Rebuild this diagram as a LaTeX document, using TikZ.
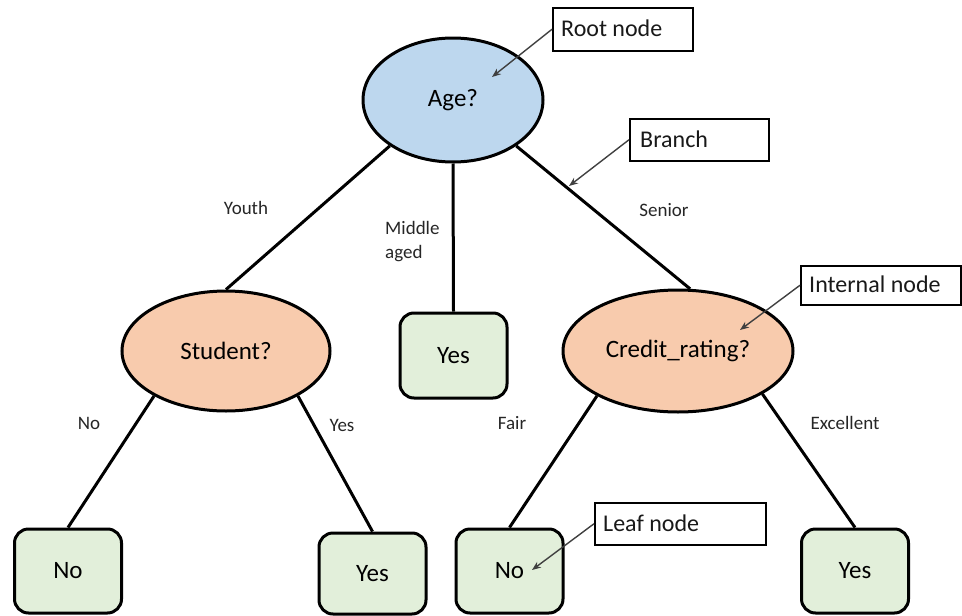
\documentclass[tikz,border=0pt]{standalone}
\usepackage{fontspec}
\setmainfont{Carlito}
\usetikzlibrary{shapes.geometric,arrows.meta}
\definecolor{rootblue}{HTML}{BDD7EE}
\definecolor{innerorange}{HTML}{F8CBAD}
\definecolor{leafgreen}{HTML}{E2EFDA}
\definecolor{calloutgray}{HTML}{404040}
\tikzset{
  decision/.style={ellipse, draw=black, line width=3pt, inner sep=0pt, font=\fontsize{25}{28}\selectfont},
  leafbox/.style={rectangle, rounded corners=14pt, draw=black, line width=3pt, fill=leafgreen,
                  minimum width=107pt, minimum height=84pt, inner sep=0pt, font=\fontsize{25}{28}\selectfont},
  edge/.style={line width=3pt, black},
  edgelabel/.style={font=\fontsize{19}{24}\selectfont, text=black!85, align=left, inner sep=0pt},
  callout/.style={rectangle, draw=black, line width=1.5pt, fill=white, anchor=north west,
                  inner sep=0pt, font=\fontsize{24}{28}\selectfont, text=black!90},
  callouttext/.style={anchor=west, font=\fontsize{24}{28}\selectfont, text=black!90, inner sep=0pt},
  pointer/.style={line width=1.4pt, calloutgray, -{Stealth[length=9pt,width=7pt]}}
}
\begin{document}
\begin{tikzpicture}[x=1pt,y=-1pt]
\useasboundingbox (0,0) rectangle (962,616);

% decision nodes
\node[decision, fill=rootblue, minimum width=180pt, minimum height=124pt] (age) at (453,100) {Age?};
\node[decision, fill=innerorange, minimum width=208pt, minimum height=120pt] (student) at (226,351) {Student?};
\node[decision, fill=innerorange, minimum width=230pt, minimum height=122pt] (credit) at (678,351) {Credit\_rating?};

% leaves
\node[leafbox, minimum height=85pt] (midyes) at (453.5,355.5) {Yes};
\node[leafbox] (leafno1) at (68,571) {No};
\node[leafbox, minimum height=81pt] (leafyes1) at (372.5,573.5) {Yes};
\node[leafbox] (leafno2) at (509.5,571) {No};
\node[leafbox] (leafyes2) at (855,571) {Yes};

% branches
\draw[edge] (age.216) -- (student.north);
\draw[edge] (age.south) -- (midyes.north);
\draw[edge] (age.324) -- (credit.79);
\draw[edge] (student.212) -- (leafno1.north);
\draw[edge] (student.328) -- (leafyes1.north);
\draw[edge] (credit.209) -- (leafno2.north);
\draw[edge] (credit.333) -- (leafyes2.north);

% branch labels
\node[edgelabel] (lyouth) at (246,208) {Youth};
\node[edgelabel, anchor=west] (lmiddle) at (385,242) {Middle\\aged};
\node[edgelabel] (lsenior) at (664,210) {Senior};
\node[edgelabel] (lno) at (89,423) {No};
\node[edgelabel] (lyes) at (342,425) {Yes};
\node[edgelabel] (lfair) at (512,423) {Fair};
\node[edgelabel] (lexc) at (845,423) {Excellent};

% callouts
\node[callout, minimum width=140pt, minimum height=43pt] (croot) at (552,7) {};
\node[callouttext] (troot) at (561,28.5) {Root node};
\node[callout, minimum width=139pt, minimum height=42pt] (cbranch) at (629,118) {};
\node[callouttext] (tbranch) at (640,139) {Branch};
\node[callout, minimum width=160pt, minimum height=39pt] (cinternal) at (800,265) {};
\node[callouttext] (tinternal) at (809,284.5) {Internal node};
\node[callout, minimum width=171pt, minimum height=42pt] (cleaf) at (594,502) {};
\node[callouttext] (tleaf) at (603,523) {Leaf node};

\coordinate (proot) at (492,77);
\coordinate (pbranch) at (569,186);
\coordinate (pinternal) at (740,330);
\coordinate (pleaf) at (532,570);

\draw[pointer] (croot.west) -- (proot);
\draw[pointer] (cbranch.west) -- (pbranch);
\draw[pointer] (cinternal.west) -- (pinternal);
\draw[pointer] (cleaf.west) -- (pleaf);
\end{tikzpicture}
\end{document}
